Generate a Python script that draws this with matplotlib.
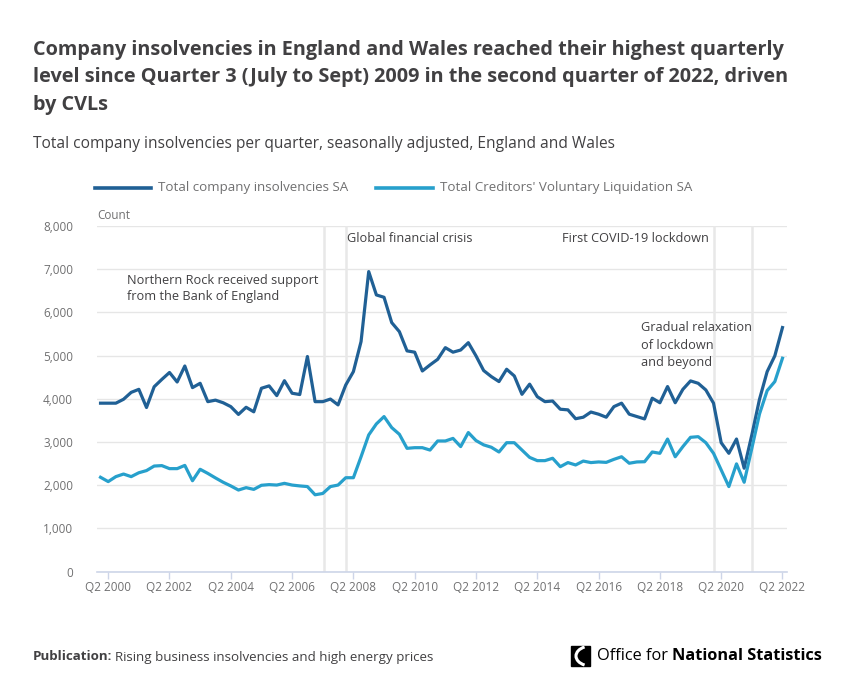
import matplotlib
matplotlib.use("Agg")
import matplotlib.pyplot as plt
from matplotlib.patches import Polygon, Arc
import numpy as np

# ---- data (quarterly, Q1 2000 .. Q2 2022) ----
start_year, start_q = 2000, 1
total_insolvencies = [3900, 3900, 3900, 3990, 4150, 4220, 3800, 4280, 4450, 4610,
                      4390, 4760, 4260, 4360, 3935, 3970, 3910, 3820, 3640, 3805,
                      3700, 4245, 4300, 4075, 4420, 4130, 4100, 4980, 3935, 3935,
                      3995, 3860, 4320, 4630, 5325, 6945, 6405, 6350, 5765, 5555,
                      5110, 5080, 4645, 4785, 4915, 5185, 5080, 5130, 5300, 4995,
                      4655, 4515, 4400, 4685, 4530, 4105, 4340, 4050, 3935, 3950,
                      3760, 3745, 3540, 3575, 3695, 3645, 3575, 3820, 3900, 3645,
                      3590, 3535, 4015, 3910, 4285, 3910, 4220, 4415, 4360, 4205,
                      3900, 2985, 2740, 3070, 2395, 3165, 3990, 4630, 4995, 5650]
total_cvl = [2185, 2085, 2200, 2260, 2200, 2290, 2340, 2445, 2455, 2385,
             2385, 2460, 2105, 2370, 2275, 2170, 2070, 1985, 1890, 1945,
             1905, 2000, 2015, 2005, 2045, 2005, 1985, 1970, 1780, 1810,
             1970, 2005, 2175, 2175, 2660, 3165, 3420, 3590, 3335, 3180,
             2855, 2870, 2870, 2815, 3025, 3025, 3085, 2895, 3220, 3035,
             2935, 2880, 2770, 2985, 2985, 2815, 2645, 2570, 2570, 2625,
             2430, 2525, 2470, 2560, 2525, 2540, 2530, 2600, 2660, 2510,
             2540, 2545, 2770, 2740, 3070, 2660, 2895, 3110, 3125, 2985,
             2740, 2355, 1970, 2495, 2070, 2855, 3650, 4190, 4400, 4940]
series_names = ["Total company insolvencies SA", "Total Creditors' Voluntary Liquidation SA"]
tick_labels = ["Q2 2000", "Q2 2002", "Q2 2004", "Q2 2006", "Q2 2008", "Q2 2010",
               "Q2 2012", "Q2 2014", "Q2 2016", "Q2 2018", "Q2 2020", "Q2 2022"]
yticks = [0, 1000, 2000, 3000, 4000, 5000, 6000, 7000, 8000]
# event markers (quarter index from Q1 2000)
event_pos = [29.2, 32.0, 80.1, 85.0]

DARK = "#206095"
LIGHT = "#27a0cc"
TXT = "#414042"
GREY = "#707071"
FONT = "Open Sans"

W, H = 852, 692
fig = plt.figure(figsize=(W / 100, H / 100), dpi=100)
plt.rcParams["font.family"] = [FONT, "DejaVu Sans"]

def fx(px):
    return px / W

def fy(py):
    return 1 - py / H

ax_l, ax_r, ax_t, ax_b = 96.7, 786.7, 226.0, 571.7
ax = fig.add_axes([fx(ax_l), fy(ax_b), fx(ax_r - ax_l), (ax_b - ax_t) / H])

n = len(total_insolvencies)
x = np.arange(n)
ax.set_xlim(-0.5, n - 0.45)
ax.set_ylim(0, 8000)

for xv in event_pos:
    ax.axvline(xv, color="#e8e8e8", lw=1.8, zorder=1)

ax.plot(x, total_insolvencies, color=DARK, lw=2.3, zorder=3, solid_joinstyle="round")
ax.plot(x, total_cvl, color=LIGHT, lw=2.3, zorder=3, solid_joinstyle="round")

ax.set_yticks(yticks)
ax.set_yticklabels([f"{v:,}" for v in yticks], color=GREY, fontsize=8.5)
ax.yaxis.grid(True, color="#e6e6e6", lw=1.0, zorder=0)
ax.tick_params(axis="y", length=0, pad=17)

tick_idx = [1 + 8 * k for k in range(len(tick_labels))]
ax.set_xticks(tick_idx)
ax.set_xticklabels(tick_labels, color=GREY, fontsize=8.5)
ax.tick_params(axis="x", length=5, width=1, color="#cdd5e8", pad=2)

for s in ["top", "right", "left"]:
    ax.spines[s].set_visible(False)
ax.spines["bottom"].set_color("#cdd5e8")
ax.spines["bottom"].set_linewidth(1.2)
ax.set_axisbelow(True)

# annotations
ax.text(3.5, 6880, "Northern Rock received support\nfrom the Bank of England",
        color=TXT, fontsize=9.2, va="top", ha="left", linespacing=1.25)
ax.text(32.2, 7870, "Global financial crisis", color=TXT, fontsize=9.2, va="top", ha="left")
ax.text(79.4, 7870, "First COVID-19 lockdown", color=TXT, fontsize=9.2, va="top", ha="right")
ax.text(70.5, 5790, "Gradual relaxation\nof lockdown\nand beyond", color=TXT, fontsize=9.2,
        va="top", ha="left", linespacing=1.42)

# Count label
fig.text(fx(97), fy(216), "Count", color=GREY, fontsize=8.5, va="center", ha="left")

# title
title_lines = ["Company insolvencies in England and Wales reached their highest quarterly",
               "level since Quarter 3 (July to Sept) 2009 in the second quarter of 2022, driven",
               "by CVLs"]
for i, line in enumerate(title_lines):
    fig.text(fx(33), fy(55 + 27.3 * i), line, color=TXT, fontsize=14.35, fontweight="bold",
             va="baseline", ha="left")
fig.text(fx(33), fy(148), "Total company insolvencies per quarter, seasonally adjusted, England and Wales",
         color=TXT, fontsize=11.2, va="baseline", ha="left")

# legend
ly = fy(188)
fig.add_artist(plt.Line2D([fx(95), fx(151)], [ly, ly], color=DARK, lw=2.6))
fig.text(fx(158), ly, series_names[0], color=GREY, fontsize=9.6, va="center", ha="left")
fig.add_artist(plt.Line2D([fx(376), fx(433)], [ly, ly], color=LIGHT, lw=2.6))
fig.text(fx(440), ly, series_names[1], color=GREY, fontsize=9.6, va="center", ha="left")

# footer
t1 = fig.text(fx(33), fy(657), "Publication:", color=TXT, fontsize=9.6, fontweight="bold",
              va="center", ha="left")
fig.canvas.draw()
bb = t1.get_window_extent()
fig.text(bb.x1 / W + fx(3), fy(657), "Rising business insolvencies and high energy prices",
         color=TXT, fontsize=9.6, va="center", ha="left")

# ONS logo
logo = Polygon([[fx(571), fy(646)], [fx(590), fy(646)], [fx(590), fy(666)], [fx(571), fy(666)]],
               closed=True, color="#000000", transform=fig.transFigure)
fig.add_artist(logo)
arc = Arc((fx(591), fy(656)), fx(30), 20 / H, theta1=120, theta2=240, color="white", lw=2.2,
          transform=fig.transFigure)
fig.add_artist(arc)
t2 = fig.text(fx(597), fy(656), "Office for", color="#000000", fontsize=11.8, va="center", ha="left")
fig.canvas.draw()
bb2 = t2.get_window_extent()
fig.text(bb2.x1 / W + fx(4), fy(656), "National Statistics", color="#000000", fontsize=11.8,
         fontweight="bold", va="center", ha="left")

fig.savefig("out.png", dpi=100, facecolor="white")
